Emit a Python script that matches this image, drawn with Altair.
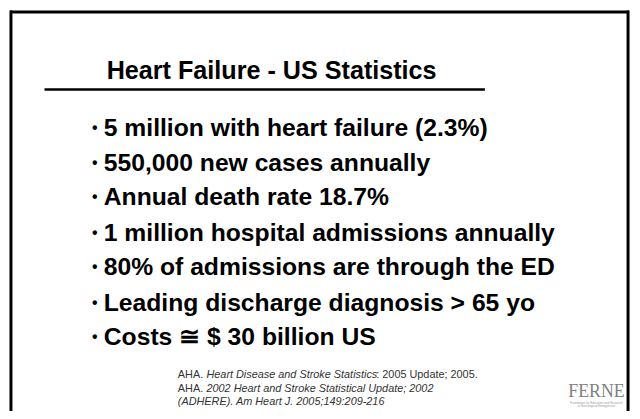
import altair as alt
import pandas as pd

W, H = 632, 403  # plot area; starts at page (8, 8)

title_text = ["Heart Failure - US Statistics"]
title_x = [275]
title_y = [69]

bullets = [
    "5 million with heart failure (2.3%)",
    "550,000 new cases annually",
    "Annual death rate 18.7%",
    "1 million hospital admissions annually",
    "80% of admissions are through the ED",
    "Leading discharge diagnosis > 65 yo",
    "Costs \u2245 $ 30 billion US",
]
bullet_y = [127, 162, 197, 233, 268, 304, 339]
bullet_dot_x = [96] * len(bullets)
bullet_text_x = [105] * len(bullets)

ref_segments = ["AHA. ", "Heart Disease and Stroke Statistics", ": 2005 Update; 2005.",
                "AHA. ", "2002 Heart and Stroke Statistical Update; 2002",
                "(ADHERE). Am Heart J. 2005;149:209-216"]
ref_x = [180, 209, 381, 180, 209, 180]
ref_y = [377, 377, 377, 391, 391, 405]
ref_style = ["normal", "italic", "normal", "normal", "italic", "italic"]

logo_text = ["FERNE"]
logo_x = [604]
logo_y = [394]
logo_sub = ["Foundation for Education and Research", "in Neurological Emergencies"]
logo_sub_y = [405, 409]

# frame and underline segments (page pixel coordinates)
seg_x = [10, 11, 636, 45]
seg_x2 = [637, 11, 636, 491]
seg_y = [9.5, 8, 8, 88]
seg_y2 = [9.5, 430, 430, 88]
seg_w = [3, 3, 3, 2.5]

xs = alt.Scale(domain=[8, 8 + W], range=[0, W])
ys = alt.Scale(domain=[8 + H, 8], range=[H, 0])

def X(f):
    return alt.X(f, type="quantitative", scale=xs, axis=None)

def Y(f):
    return alt.Y(f, type="quantitative", scale=ys, axis=None)

FONT = "Liberation Sans"

segs = pd.DataFrame({"x": seg_x, "x2": seg_x2, "y": seg_y, "y2": seg_y2, "w": seg_w})
frame = alt.Chart(segs).mark_rule(color="black", clip=False).encode(
    x=X("x"), x2="x2", y=Y("y"), y2="y2",
    strokeWidth=alt.StrokeWidth("w:Q", scale=None, legend=None),
)

title = alt.Chart(pd.DataFrame({"t": title_text, "x": title_x, "y": title_y})).mark_text(
    font=FONT, fontSize=25.5, fontWeight="bold", color="black", align="center", baseline="middle"
).encode(x=X("x"), y=Y("y"), text="t:N")

bdf = pd.DataFrame({"t": bullets, "x": bullet_text_x, "dx": bullet_dot_x, "y": bullet_y})
dots = alt.Chart(bdf).mark_text(
    font=FONT, fontSize=16, fontWeight="bold", color="black", align="center", baseline="middle"
).encode(x=X("dx"), y=Y("y"), text=alt.value("\u2022"))
btext = alt.Chart(bdf).mark_text(
    font=FONT, fontSize=25, fontWeight="bold", color="black", align="left", baseline="middle"
).encode(x=X("x"), y=Y("y"), text="t:N")

rdf = pd.DataFrame({"t": ref_segments, "x": ref_x, "y": ref_y, "s": ref_style})
refs_n = alt.Chart(rdf).transform_filter(alt.datum.s == "normal").mark_text(
    font=FONT, fontSize=11, color="#333333", align="left", baseline="middle"
).encode(x=X("x"), y=Y("y"), text="t:N")
refs_i = alt.Chart(rdf).transform_filter(alt.datum.s == "italic").mark_text(
    font=FONT, fontSize=11, fontStyle="italic", color="#333333", align="left", baseline="middle"
).encode(x=X("x"), y=Y("y"), text="t:N")

logo = alt.Chart(pd.DataFrame({"t": logo_text, "x": logo_x, "y": logo_y})).mark_text(
    font="Liberation Serif", fontSize=18, color="#808080", align="center", baseline="middle"
).encode(x=X("x"), y=Y("y"), text="t:N")
logo2 = alt.Chart(pd.DataFrame({"t": logo_sub, "x": [604, 604], "y": logo_sub_y})).mark_text(
    font=FONT, fontSize=3, color="#999999", align="center", baseline="middle"
).encode(x=X("x"), y=Y("y"), text="t:N")

chart = alt.layer(frame, title, dots, btext, refs_n, refs_i, logo, logo2).properties(
    width=W, height=H, padding=0, autosize="none", background="white"
).configure_view(stroke=None)

chart.save("out.html", embed_options={"renderer": "svg", "actions": False})
